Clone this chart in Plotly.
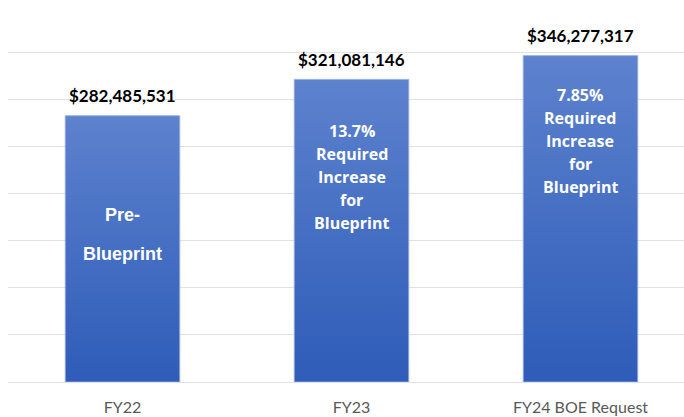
import plotly.graph_objects as go

categories = ["FY22", "FY23", "FY24 BOE Request"]
values = [282485531, 321081146, 346277317]

# in-bar notes: lines and the y-axis value at the block's centre
inbar_lines = [["Pre-", "Blueprint"],
               ["13.7%", "Required", "Increase", "for", "Blueprint"],
               ["7.85%", "Required", "Increase", "for", "Blueprint"]]
inbar_center = [157e6, 218e6, 256e6]

BAR_W = 0.5
GRAD = [[0, "#2E5CB8"], [1, "#5D82CE"]]

fig = go.Figure()
for i, v in enumerate(values):
    x0, x1 = i - BAR_W / 2, i + BAR_W / 2
    fig.add_trace(go.Scatter(
        x=[x0, x1, x1, x0, x0], y=[0, 0, v, v, 0],
        mode="lines", fill="toself",
        line=dict(color="rgba(150,172,222,0.9)", width=1),
        fillgradient=dict(type="vertical", colorscale=GRAD),
        hoverinfo="skip", showlegend=False))

ann = []
for i, v in enumerate(values):
    ann.append(dict(x=i, y=v, xref="x", yref="y", text=f"${v:,.0f}",
                    showarrow=False, yanchor="middle", yshift=20,
                    font=dict(family="Lato", size=17, color="#000000", weight="bold")))
for i, (lines, yc) in enumerate(zip(inbar_lines, inbar_center)):
    if i == 0:
        fam, size, step = "Liberation Sans", 18, 39
    else:
        fam, size, step = "Open Sans", 16, 23
    n = len(lines)
    for k, t in enumerate(lines):
        ann.append(dict(x=i, y=yc, xref="x", yref="y", text=t,
                        showarrow=False, yanchor="middle",
                        yshift=((n - 1) / 2 - k) * step,
                        font=dict(family=fam, size=size, color="#FFFFFF", weight="bold")))

fig.update_layout(
    width=684, height=417,
    margin=dict(l=8, r=0, t=4, b=35),
    plot_bgcolor="white", paper_bgcolor="white",
    annotations=ann,
    xaxis=dict(range=[-0.5, 2.452], tickvals=[0, 1, 2], ticktext=categories,
               showgrid=False, zeroline=False, showline=False, ticks="",
               ticklabelstandoff=14,
               tickfont=dict(family="Lato", size=16, color="#595959")),
    yaxis=dict(range=[0, 401.06e6], dtick=50e6, showticklabels=False,
               showgrid=True, gridcolor="#DEE2E8", gridwidth=1.4,
               zeroline=True, zerolinecolor="#DEE2E8", zerolinewidth=1.4,
               showline=False, ticks=""),
)

fig.write_html("out.html", config={"displayModeBar": False},
               post_script="document.body.style.margin='0';")
